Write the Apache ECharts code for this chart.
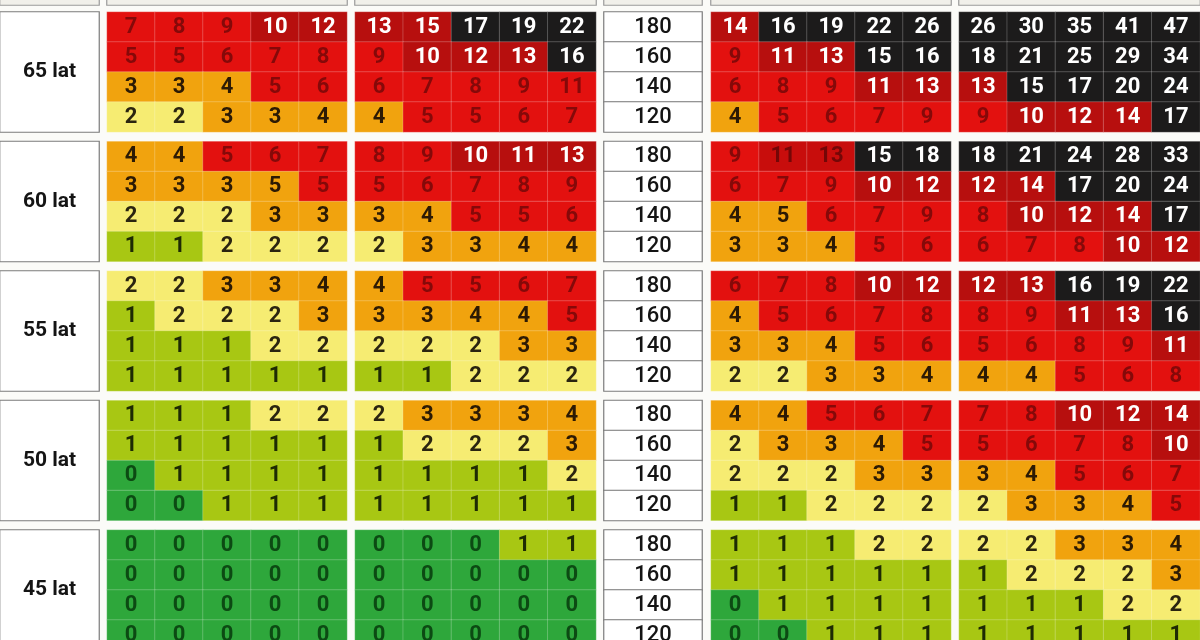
<!DOCTYPE html>
<html><head><meta charset="utf-8">
<script src="https://cdn.jsdelivr.net/npm/echarts@6/dist/echarts.min.js"></script>
<style>html,body{margin:0;padding:0;background:#fbfbf8}#c{width:1200px;height:640px}</style>
</head><body><div id="c"></div>
<script>
// ---------- DATA ----------
const blockLabels = ['65 lat', '60 lat', '55 lat', '50 lat', '45 lat'];
const speedLabels = ['180', '160', '140', '120'];
const columns = ['c1', 'c2', 'c3', 'c4', 'c5'];

// rows top -> bottom = 180, 160, 140, 120 ; four column-groups A..D
const lat65A = [[7,8,9,10,12],[5,5,6,7,8],[3,3,4,5,6],[2,2,3,3,4]];
const lat65B = [[13,15,17,19,22],[9,10,12,13,16],[6,7,8,9,11],[4,5,5,6,7]];
const lat65C = [[14,16,19,22,26],[9,11,13,15,16],[6,8,9,11,13],[4,5,6,7,9]];
const lat65D = [[26,30,35,41,47],[18,21,25,29,34],[13,15,17,20,24],[9,10,12,14,17]];

const lat60A = [[4,4,5,6,7],[3,3,3,5,5],[2,2,2,3,3],[1,1,2,2,2]];
const lat60B = [[8,9,10,11,13],[5,6,7,8,9],[3,4,5,5,6],[2,3,3,4,4]];
const lat60C = [[9,11,13,15,18],[6,7,9,10,12],[4,5,6,7,9],[3,3,4,5,6]];
const lat60D = [[18,21,24,28,33],[12,14,17,20,24],[8,10,12,14,17],[6,7,8,10,12]];

const lat55A = [[2,2,3,3,4],[1,2,2,2,3],[1,1,1,2,2],[1,1,1,1,1]];
const lat55B = [[4,5,5,6,7],[3,3,4,4,5],[2,2,2,3,3],[1,1,2,2,2]];
const lat55C = [[6,7,8,10,12],[4,5,6,7,8],[3,3,4,5,6],[2,2,3,3,4]];
const lat55D = [[12,13,16,19,22],[8,9,11,13,16],[5,6,8,9,11],[4,4,5,6,8]];

const lat50A = [[1,1,1,2,2],[1,1,1,1,1],[0,1,1,1,1],[0,0,1,1,1]];
const lat50B = [[2,3,3,3,4],[1,2,2,2,3],[1,1,1,1,2],[1,1,1,1,1]];
const lat50C = [[4,4,5,6,7],[2,3,3,4,5],[2,2,2,3,3],[1,1,2,2,2]];
const lat50D = [[7,8,10,12,14],[5,6,7,8,10],[3,4,5,6,7],[2,3,3,4,5]];

const lat45A = [[0,0,0,0,0],[0,0,0,0,0],[0,0,0,0,0],[0,0,0,0,0]];
const lat45B = [[0,0,0,1,1],[0,0,0,0,0],[0,0,0,0,0],[0,0,0,0,0]];
const lat45C = [[1,1,1,2,2],[1,1,1,1,1],[0,1,1,1,1],[0,0,1,1,1]];
const lat45D = [[2,2,3,3,4],[1,2,2,2,3],[1,1,1,2,2],[1,1,1,1,1]];

const blocks = [
  [lat65A, lat65B, lat65C, lat65D],
  [lat60A, lat60B, lat60C, lat60D],
  [lat55A, lat55B, lat55C, lat55D],
  [lat50A, lat50B, lat50C, lat50D],
  [lat45A, lat45B, lat45C, lat45D]
];

// colour class lower bounds (class i covers values >= levelMins[i])
const levelMins = [0, 1, 2, 3, 5, 10, 15];
// cells coloured differently from their value class in the picture: [block, group, row, col, class]
const levelOverrides = [[0,1,0,1,5],[0,1,2,4,4],[1,0,1,3,3],[1,2,2,1,3],[1,2,0,1,7],[1,2,0,2,7]];

// ---------- STYLE ----------
const levelStyles = [
  {bg: '#2ea73b', fg: '#0c4a13'},
  {bg: '#a8c713', fg: '#1e2a04'},
  {bg: '#f6ec72', fg: '#2a2410'},
  {bg: '#f1a30e', fg: '#2c1a04'},
  {bg: '#e3110f', fg: '#850909'},
  {bg: '#b70f0e', fg: '#ffffff'},
  {bg: '#1c1b1b', fg: '#ffffff'},
  {bg: '#c80d0c', fg: '#740707'}
];
const FONT = 'Roboto';
const groupLefts = [107, 355, 711, 959];
const groupWidths = [240, 241, 240, 241];
const blockTop = b => 12 + b * 129.5;
const BLOCK_H = 120;

const grids = [], xAxes = [], yAxes = [], series = [];
function addGrid(left, top, width, height, xCats, yCats) {
  grids.push({left, top, width, height, containLabel: false, outerBoundsMode: 'none'});
  const i = grids.length - 1;
  xAxes.push({type: 'category', data: xCats, gridIndex: i, show: false});
  yAxes.push({type: 'category', data: yCats, gridIndex: i, show: false, inverse: true});
  return i;
}
function levelOf(v) {
  let l = 0;
  levelMins.forEach((m, i) => { if (v >= m) l = i; });
  return l;
}
function overrideOf(b, g, r, c) {
  const o = levelOverrides.find(a => a[0] === b && a[1] === g && a[2] === r && a[3] === c);
  return o ? o[4] : null;
}
function boxSeries(gi, items, fill, border, fontSize, weight) {
  series.push({
    type: 'heatmap', xAxisIndex: gi, yAxisIndex: gi, animation: false,
    emphasis: {disabled: true},
    itemStyle: {color: fill, borderColor: border, borderWidth: 1.2},
    label: {show: true, formatter: p => p.data.name, color: '#141414',
      fontFamily: FONT, fontSize: fontSize, fontWeight: weight},
    data: items
  });
}

// header strip (cut off at top)
const headerBoxes = [[0, 99], [107, 240], [355, 241], [604, 98], [711, 240], [959, 241]];
headerBoxes.forEach(h => {
  const gi = addGrid(h[0], -30, h[1], 35, ['h'], ['h']);
  boxSeries(gi, [{value: [0, 0, 0], name: ''}], '#f1f0ea', '#9b9b9b', 12, 'normal');
});

blocks.forEach((groups, b) => {
  const top = blockTop(b);
  // latitude label box
  const lg = addGrid(0, top, 99, BLOCK_H, ['l'], ['l']);
  boxSeries(lg, [{value: [0, 0, 0], name: blockLabels[b]}], '#ffffff', '#7b7b7b', 21, 'bold');
  // speed column
  const sg = addGrid(604, top, 98, BLOCK_H, ['s'], speedLabels);
  boxSeries(sg, speedLabels.map((s, i) => ({value: [0, i, 0], name: s})), '#ffffff', '#7b7b7b', 22, 500);
  // four heat groups
  groups.forEach((rows, g) => {
    const gi = addGrid(groupLefts[g], top, groupWidths[g], BLOCK_H, columns, speedLabels);
    const data = [];
    rows.forEach((row, r) => row.forEach((v, c) => {
      const ov = overrideOf(b, g, r, c);
      const st = levelStyles[ov !== null ? ov : levelOf(v)];
      data.push({
        value: [c, r, v], name: String(v),
        itemStyle: {color: st.bg},
        label: {color: st.fg}
      });
    }));
    series.push({
      type: 'heatmap', xAxisIndex: gi, yAxisIndex: gi, animation: false,
      emphasis: {disabled: true},
      itemStyle: {borderColor: 'rgba(255,255,255,0.22)', borderWidth: 1},
      label: {show: true, formatter: p => String(p.value[2]),
        fontFamily: FONT, fontSize: 22, fontWeight: 'bold'},
      data: data
    });
  });
});

const chart = echarts.init(document.getElementById('c'), null, {renderer: 'canvas'});
chart.setOption({
  backgroundColor: '#fbfbf8',
  animation: false,
  grid: grids, xAxis: xAxes, yAxis: yAxes, series: series
});
</script></body></html>
